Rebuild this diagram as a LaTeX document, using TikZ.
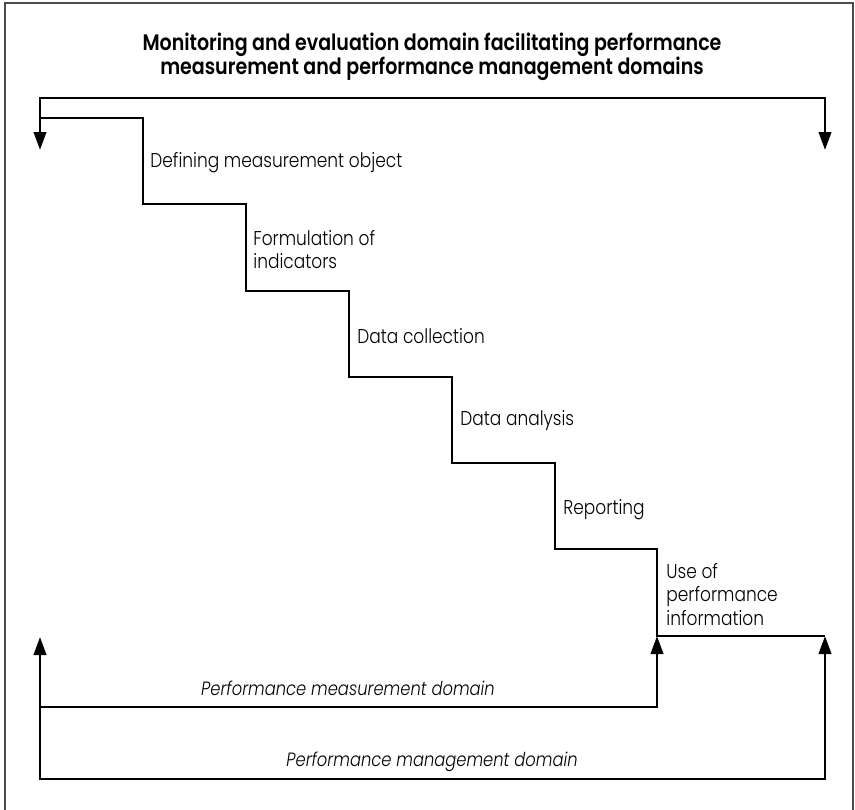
\documentclass[tikz,border=0pt]{standalone}
\usepackage{fontspec}
\setmainfont{Poppins}[UprightFont=* Light, ItalicFont=* Light Italic, BoldFont=* SemiBold, FakeStretch=0.85]
\newfontfamily\titlefont{Poppins SemiBold}[FakeStretch=0.85]
\usetikzlibrary{arrows.meta,positioning}
\tikzset{
	domline/.style={line width=1.35pt, line join=miter},
	headtip/.tip={Triangle[length=9pt,width=6.2pt]},
	steplabel/.style={anchor=west, inner sep=0pt, align=left, font=\fontsize{10}{11.75}\selectfont},
	domlabel/.style={inner sep=0pt, font=\fontsize{9.6}{12}\selectfont\itshape}
}
\begin{document}
\begin{tikzpicture}[x=0.5pt,y=-0.5pt]
	\useasboundingbox (0,0) rectangle (855,809);
	% outer frame
	\draw[black!70, line width=0.6pt] (5,3) rectangle (853,815);
	%% the title
	\node[align=center, inner sep=0pt, font=\titlefont\fontsize{11.2}{12.2}\selectfont] (title) at (432,57)
	{Monitoring and evaluation domain facilitating performance\\ measurement and performance management domains};
	% corner points
	\coordinate (tl) at (40,98);
	\coordinate (tr) at (825,98);
	\coordinate (tlend) at (40,150);
	\coordinate (trend) at (825,150);
	\coordinate (start) at (40,118);
	\coordinate (c0) at (143,118);
	\coordinate (c1) at (246,204);
	\coordinate (c2) at (349,291);
	\coordinate (c3) at (452,377);
	\coordinate (c4) at (555,463);
	\coordinate (c5) at (657,549);
	\coordinate (c6) at (657,636);
	\coordinate (stepend) at (825,636);
	\coordinate (mgmtl) at (40,637);
	\coordinate (measl) at (40,707);
	\coordinate (measr) at (657,707);
	\coordinate (mgmtbl) at (40,779);
	\coordinate (mgmtbr) at (825,779);
	% the top bracket
	\draw[domline, headtip-headtip] (tlend) -- (tl) -- (tr) -- (trend);
	% the staircase
	\draw[domline] (start) -- (c0) |- (c1) |- (c2) |- (c3) |- (c4) |- (c5) -- (c6) -- (stepend);
	% the two domains
	\draw[domline, -headtip] (measl) -- (measr) -- (c6);
	\draw[domline, headtip-headtip] (mgmtl) -- (mgmtbl) -- (mgmtbr) -- (stepend);
	%% the labels
	\node[steplabel] (define) at (150,163) {Defining measurement object};
	\node[steplabel] (formul) at (253,249.5) {Formulation of\\indicators};
	\node[steplabel] (collect) at (357,336) {Data collection};
	\node[steplabel] (analyse) at (460,421) {Data analysis};
	\node[steplabel] (report) at (563,510) {Reporting};
	\node[steplabel] (useinfo) at (666,594) {Use of\\performance\\information};
	\node[domlabel] (measure) at (348,688) {Performance measurement domain};
	\node[domlabel] (manage) at (432,762) {Performance management domain};
\end{tikzpicture}
\end{document}
